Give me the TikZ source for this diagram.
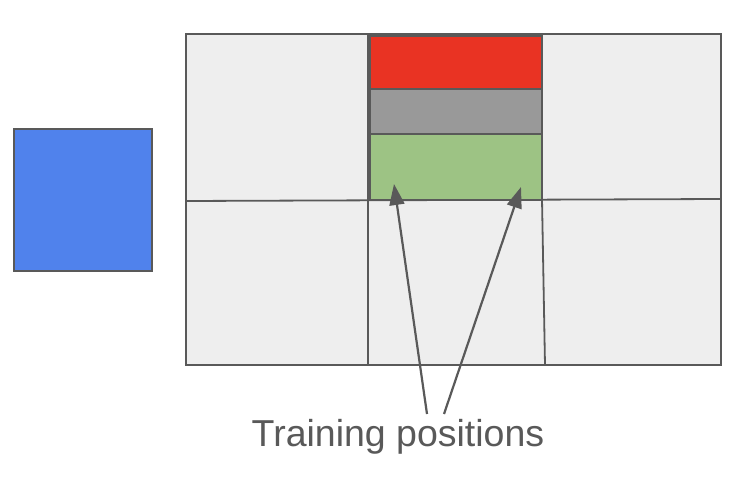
\documentclass[tikz,border=0pt]{standalone}
\usepackage{fontspec}
\setmainfont{Liberation Sans}
\usetikzlibrary{arrows.meta,positioning}
\definecolor{edge}{HTML}{595959}
\definecolor{cellgray}{HTML}{EEEEEE}
\definecolor{topred}{HTML}{E93323}
\definecolor{midgray}{HTML}{999999}
\definecolor{lowgreen}{HTML}{9DC384}
\definecolor{bluebox}{HTML}{5082EC}

\begin{document}
\begin{tikzpicture}[x=1pt,y=-1pt,>={Triangle[length=21pt,width=15pt]},
    box/.style={draw=edge,line width=2.2pt,inner sep=0pt,outer sep=0pt},
    slot/.style={box,line width=2.6pt,minimum width=172pt},
    gridline/.style={draw=edge,line width=1.8pt}]
  \useasboundingbox (0,0) rectangle (750,484);
  \node[box,fill=bluebox,minimum width=138pt,minimum height=142pt,anchor=north west]
       (query) at (14,129) {};
  \node[box,fill=cellgray,minimum width=535pt,minimum height=331pt,anchor=north west]
       (grid) at (186,34) {};
  % split lines of the grid
  \draw[gridline] (grid.west |- 0,201) -- (grid.east |- 0,199);
  \draw[gridline] (368,34) -- (368,365);
  \draw[gridline] (542,199) -- (545,365);
  \node[slot,fill=topred,minimum height=53pt,anchor=north west]
       (red) at (370,36) {};
  \node[slot,fill=midgray,minimum height=45pt,below=0pt of red] (gray) {};
  \node[slot,fill=lowgreen,minimum height=66pt,below=0pt of gray] (green) {};
  \node[text=edge,font=\fontsize{37.5}{40}\selectfont] (label) at (398,437)
       {Training positions};
  \coordinate (tipL) at (394,184);
  \coordinate (tipR) at (521,187);
  \coordinate (tailL) at (427,414);
  \coordinate (tailR) at (444,414);
  \draw[->,edge,line width=2.2pt] (tailL) -- (tipL);
  \draw[->,edge,line width=2.2pt] (tailR) -- (tipR);
\end{tikzpicture}
\end{document}
